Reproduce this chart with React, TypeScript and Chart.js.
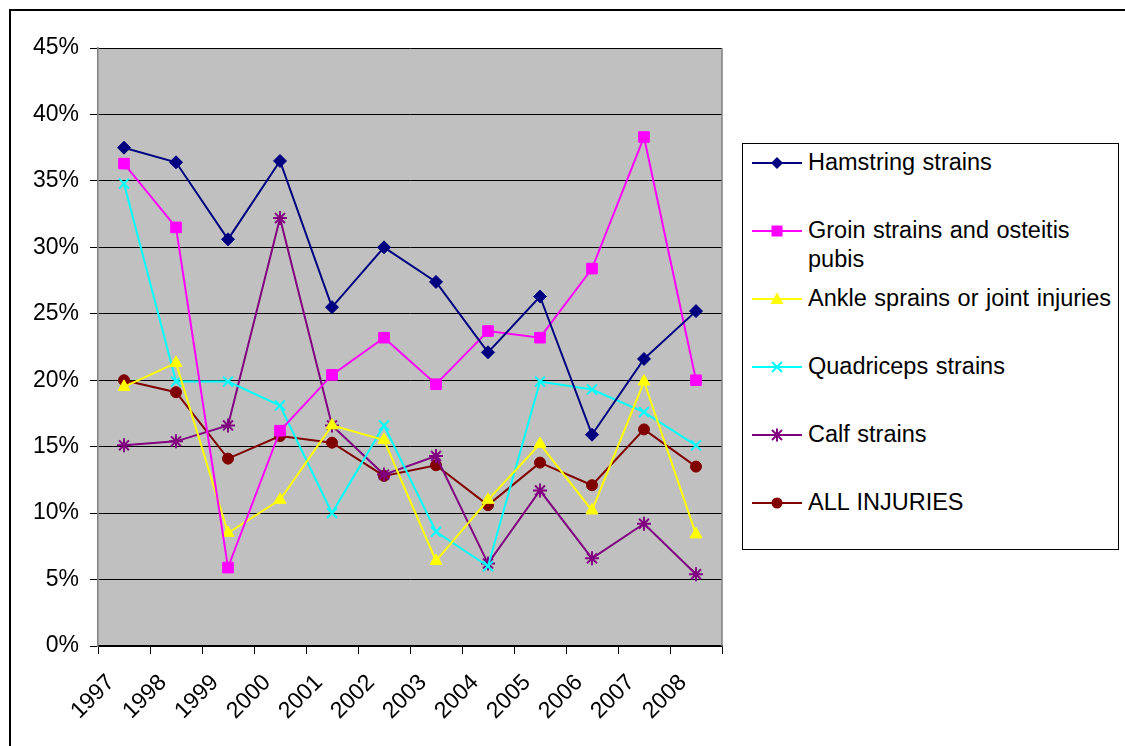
import React, { useEffect, useRef } from "react";
import { Chart, registerables } from "chart.js";

Chart.register(...registerables);

const years = ["1997", "1998", "1999", "2000", "2001", "2002", "2003", "2004", "2005", "2006", "2007", "2008"];
const hamstring = [37.5, 36.4, 30.6, 36.5, 25.5, 30.0, 27.4, 22.1, 26.3, 15.9, 21.6, 25.2];
const groin = [36.3, 31.5, 5.9, 16.2, 20.4, 23.2, 19.7, 23.7, 23.2, 28.4, 38.3, 20.0];
const ankle = [19.5, 21.3, 8.5, 11.0, 16.6, 15.5, 6.4, 11.0, 15.2, 10.2, 19.9, 8.4];
const quadriceps = [34.8, 19.9, 19.9, 18.1, 10.0, 16.6, 8.6, 6.0, 19.9, 19.3, 17.6, 15.1];
const calf = [15.1, 15.4, 16.6, 32.2, 16.6, 12.9, 14.3, 6.2, 11.7, 6.6, 9.2, 5.4];
const allInjuries = [20.0, 19.1, 14.1, 15.8, 15.3, 12.8, 13.6, 10.6, 13.8, 12.1, 16.3, 13.5];

const yMin = 0;
const yMax = 45;
const yStep = 5;

const FONT = "'Liberation Sans', Arial, sans-serif";

type SeriesDef = {
  label: string;
  data: number[];
  color: string;
  pointStyle: string;
  radius: number;
  filled: boolean;
};

const series: SeriesDef[] = [
  { label: "Hamstring strains", data: hamstring, color: "#000080", pointStyle: "rectRot", radius: 6.5, filled: true },
  { label: "Groin strains and osteitis pubis", data: groin, color: "#FF00FF", pointStyle: "rect", radius: 7.5, filled: true },
  { label: "Ankle sprains or joint injuries", data: ankle, color: "#FFFF00", pointStyle: "triangle", radius: 7, filled: true },
  { label: "Quadriceps strains", data: quadriceps, color: "#00FFFF", pointStyle: "crossRot", radius: 7, filled: false },
  { label: "Calf strains", data: calf, color: "#800080", pointStyle: "star", radius: 7, filled: false },
  { label: "ALL INJURIES", data: allInjuries, color: "#800000", pointStyle: "circle", radius: 5.5, filled: true },
];

const plotBg = {
  id: "plotBg",
  beforeDraw(chart: any) {
    const { ctx, chartArea } = chart;
    ctx.save();
    ctx.fillStyle = "#C0C0C0";
    ctx.fillRect(chartArea.left, chartArea.top, chartArea.right - chartArea.left, chartArea.bottom - chartArea.top);
    ctx.restore();
  },
  afterDraw(chart: any) {
    const { ctx, chartArea, scales } = chart;
    ctx.save();
    ctx.strokeStyle = "#808080";
    ctx.lineWidth = 1.5;
    ctx.beginPath();
    ctx.moveTo(chartArea.right, chartArea.top);
    ctx.lineTo(chartArea.right, chartArea.bottom);
    ctx.stroke();
    // rotated category labels, placed like the original's
    const xs = scales.x;
    ctx.fillStyle = "#000";
    ctx.font = `23px ${FONT}`;
    ctx.textAlign = "center";
    ctx.textBaseline = "middle";
    years.forEach((label, i) => {
      const cx = xs.getPixelForValue(i);
      ctx.save();
      ctx.translate(cx - 31, chartArea.bottom + 51);
      ctx.rotate(-Math.PI / 4);
      ctx.fillText(label, 0, 0);
      ctx.restore();
    });
    ctx.restore();
  },
};

function Marker({ s }: { s: SeriesDef }) {
  const c = s.color;
  const cx = 25;
  const cy = 8;
  let shape: React.ReactNode = null;
  if (s.pointStyle === "rectRot") {
    shape = <polygon points={`${cx},${cy - 6} ${cx + 6},${cy} ${cx},${cy + 6} ${cx - 6},${cy}`} fill={c} />;
  } else if (s.pointStyle === "rect") {
    shape = <rect x={cx - 5.5} y={cy - 5.5} width={11} height={11} fill={c} />;
  } else if (s.pointStyle === "triangle") {
    shape = <polygon points={`${cx},${cy - 6.5} ${cx + 6.5},${cy + 5} ${cx - 6.5},${cy + 5}`} fill={c} />;
  } else if (s.pointStyle === "crossRot") {
    shape = (
      <g stroke={c} strokeWidth={2}>
        <line x1={cx - 5} y1={cy - 5} x2={cx + 5} y2={cy + 5} />
        <line x1={cx - 5} y1={cy + 5} x2={cx + 5} y2={cy - 5} />
      </g>
    );
  } else if (s.pointStyle === "star") {
    shape = (
      <g stroke={c} strokeWidth={2}>
        <line x1={cx - 5} y1={cy - 5} x2={cx + 5} y2={cy + 5} />
        <line x1={cx - 5} y1={cy + 5} x2={cx + 5} y2={cy - 5} />
        <line x1={cx} y1={cy - 6.5} x2={cx} y2={cy + 6.5} />
      </g>
    );
  } else {
    shape = <circle cx={cx} cy={cy} r={5.5} fill={c} />;
  }
  return (
    <svg width={50} height={16} style={{ display: "block" }}>
      <line x1={0} y1={cy} x2={50} y2={cy} stroke={c} strokeWidth={2} />
      {shape}
    </svg>
  );
}

export default function App() {
  const canvasRef = useRef<HTMLCanvasElement | null>(null);

  useEffect(() => {
    const canvas = canvasRef.current;
    if (!canvas) return;
    const chart = new Chart(canvas, {
      type: "line",
      data: {
        labels: years,
        datasets: series.map((s) => ({
          label: s.label,
          data: s.data,
          borderColor: s.color,
          backgroundColor: s.filled ? s.color : "rgba(0,0,0,0)",
          pointBackgroundColor: s.filled ? s.color : "rgba(0,0,0,0)",
          pointBorderColor: s.color,
          pointBorderWidth: s.filled ? 1 : 2,
          borderWidth: 2,
          pointStyle: s.pointStyle as any,
          pointRadius: s.radius,
          tension: 0,
        })),
      },
      options: {
        responsive: false,
        animation: false,
        devicePixelRatio: 1,
        layout: { padding: { top: 48, right: 18, left: 0, bottom: 0 } },
        plugins: {
          legend: { display: false },
          tooltip: { enabled: false },
        },
        scales: {
          x: {
            type: "category",
            offset: true,
            afterFit(scale: any) {
              scale.height = 100;
            },
            grid: {
              offset: true,
              drawOnChartArea: false,
              drawTicks: true,
              tickLength: 8,
              color: "#000000",
              lineWidth: 1,
            },
            border: { color: "#000000", width: 1.5 },
            ticks: {
              display: false,
              autoSkip: false,
            },
          },
          y: {
            min: yMin,
            max: yMax,
            afterFit(scale: any) {
              scale.width = 98;
            },
            grid: {
              color: "#000000",
              lineWidth: 1,
              drawTicks: true,
              tickLength: 8,
            },
            border: { color: "#808080", width: 1.5 },
            ticks: {
              stepSize: yStep,
              color: "#000000",
              padding: 11,
              font: { family: FONT, size: 23 },
              callback: (v: any) => `${v}%`,
            },
          },
        },
      },
      plugins: [plotBg],
    });
    return () => chart.destroy();
  }, []);

  return (
    <div style={{ position: "absolute", left: 0, top: 0, width: 1125, height: 746, background: "#fff", overflow: "hidden", fontFamily: FONT }}>
      <div
        style={{
          position: "absolute",
          left: 9,
          top: 9,
          width: 1200,
          height: 800,
          borderLeft: "2px solid #000",
          borderTop: "2px solid #000",
        }}
      />
      <canvas ref={canvasRef} width={740} height={746} style={{ position: "absolute", left: 0, top: 0 }} />
      <div
        style={{
          position: "absolute",
          left: 742,
          top: 143,
          width: 375,
          height: 405,
          border: "1px solid #000",
          background: "#fff",
        }}
      >
        {series.map((s, i) => (
          <div
            key={s.label}
            style={{ position: "absolute", left: 9, top: 4 + i * 68, display: "flex", alignItems: "flex-start" }}
          >
            <div style={{ marginTop: 6.5, marginRight: 6 }}>
              <Marker s={s} />
            </div>
            <div style={{ fontSize: 23.5, lineHeight: "29px", color: "#000", width: 308, wordSpacing: 1 }}>{s.label}</div>
          </div>
        ))}
      </div>
    </div>
  );
}
